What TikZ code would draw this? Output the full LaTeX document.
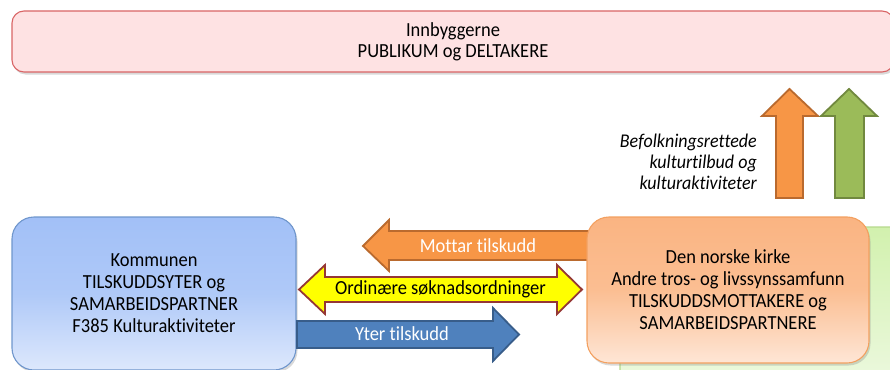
\documentclass[tikz,border=0pt]{standalone}
\usepackage{fontspec}
\setmainfont{Carlito}[Ligatures=NoCommon]
\usepackage{graphicx}
\usetikzlibrary{shadows}
\newcommand{\vs}[1]{\scalebox{1}[1.08]{#1}}
\definecolor{pinkfill}{HTML}{FEE2E3}
\definecolor{pinkline}{HTML}{D96566}
\definecolor{blueA}{HTML}{A2C0F7}
\definecolor{blueM}{HTML}{AFC9F8}
\definecolor{blueB}{HTML}{DDE8FC}
\definecolor{blueline}{HTML}{6F96CC}
\definecolor{orA}{HTML}{FAB482}
\definecolor{orM}{HTML}{FBBE92}
\definecolor{orB}{HTML}{FEE6D6}
\definecolor{orline}{HTML}{F3A060}
\definecolor{grA}{HTML}{D2F1AE}
\definecolor{grB}{HTML}{EEF9E2}
\definecolor{grline}{HTML}{B5D98C}
\definecolor{arrOr}{HTML}{F79646}
\definecolor{arrOrLine}{HTML}{BA6A2E}
\definecolor{arrGr}{HTML}{9BBB59}
\definecolor{arrGrLine}{HTML}{71893F}
\definecolor{arrBl}{HTML}{4F81BD}
\definecolor{arrBlLine}{HTML}{385D8A}
\definecolor{arrYe}{HTML}{FFFF00}
\definecolor{arrYeLine}{HTML}{953735}
\tikzset{
  boxshadow/.style={drop shadow={opacity=0.3,shadow xshift=1.5pt,shadow yshift=-2.5pt}},
  bigbox/.style={rounded corners=22pt, line width=1.1pt, inner sep=0pt, align=center,
     font=\fontsize{18.5}{22}\selectfont, boxshadow},
  blockarrow/.style={line width=1.8pt, line join=miter},
  arrtext/.style={font=\fontsize{18.5}{22}\selectfont, inner sep=0pt},
}
\begin{document}
\begin{tikzpicture}[x=1pt,y=-1pt]
\useasboundingbox (0,0) rectangle (890,369);
\clip (0,0) rectangle (890,369);

% top box
\node[rounded corners=12pt, line width=1.1pt, draw=pinkline, fill=pinkfill, boxshadow,
      minimum width=882pt, minimum height=61pt, inner sep=0pt, align=center,
      font=\fontsize{18.5}{21}\selectfont] (top) at (453,41.5)
      {\vs{Innbyggerne}\\\vs{PUBLIKUM og DELTAKERE}};

% green box (behind)
\node[bigbox, draw=grline, top color=grA, bottom color=grB,
      minimum width=295pt, minimum height=168pt] (green) at (767.5,311) {};

% up arrows
\draw[blockarrow, draw=arrOrLine, fill=arrOr]
  (776,198) -- (803,198) -- (803,116) -- (818,116) -- (789.5,89) -- (762,116) -- (776,116) -- cycle;
\draw[blockarrow, draw=arrGrLine, fill=arrGr]
  (835,198) -- (864,198) -- (864,116) -- (877,116) -- (849,89) -- (821,116) -- (835,116) -- cycle;

\node[anchor=east, align=right, font=\fontsize{18}{21}\selectfont\itshape, inner sep=0pt] (befolk)
  at (757,161.5) {\vs{Befolkningsrettede}\\\vs{kulturtilbud og}\\\vs{kulturaktiviteter}};

% Mottar tilskudd arrow (left)
\draw[blockarrow, draw=arrOrLine, fill=arrOr]
  (600,231) -- (389,231) -- (389,220) -- (363,246) -- (389,271) -- (389,260) -- (600,260) -- cycle;
\node[arrtext, text=white] (mottar) at (478,246) {\vs{Mottar tilskudd}};

% right orange box
\node[bigbox, draw=orline, top color=orA, bottom color=orB, middle color=orM,
      minimum width=282pt, minimum height=146pt] (kirke) at (728,290)
  {\vs{Den norske kirke}\\\vs{Andre tros- og livssynssamfunn}\\\vs{TILSKUDDSMOTTAKERE og}\\\vs{SAMARBEIDSPARTNERE}};

% left blue box
\node[bigbox, draw=blueline, top color=blueA, bottom color=blueB, middle color=blueM,
      minimum width=284pt, minimum height=153pt] (kommune) at (154,293.5)
  {\vs{Kommunen}\\\vs{TILSKUDDSYTER og}\\\vs{SAMARBEIDSPARTNER}\\\vs{F385 Kulturaktiviteter}};

% yellow double arrow
\draw[blockarrow, draw=arrYeLine, fill=arrYe]
  (299,289.5) -- (325,265) -- (325,277) -- (557,277) -- (557,265) -- (582,289.5)
  -- (557,314) -- (557,302) -- (325,302) -- (325,314) -- cycle;
\node[arrtext, text=black] (ordinaere) at (440.5,289.5) {\vs{Ordinære søknadsordninger}};

% blue arrow (right)
\draw[blockarrow, draw=arrBlLine, fill=arrBl]
  (297,321) -- (493,321) -- (493,308) -- (519,334.5) -- (493,361) -- (493,348) -- (297,348) -- cycle;
\node[arrtext, text=white] (yter) at (402,334) {\vs{Yter tilskudd}};
\end{tikzpicture}
\end{document}
